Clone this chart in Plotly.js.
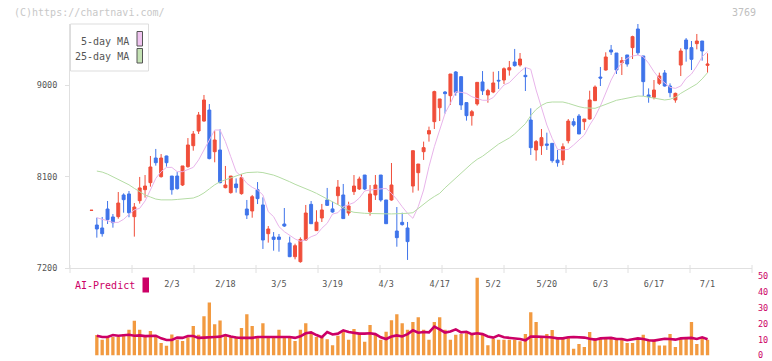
<!DOCTYPE html>
<html><head><meta charset="utf-8">
<script src="https://cdn.plot.ly/plotly-3.0.1.min.js"></script>
<style>html,body{margin:0;padding:0;background:#fff;}#chart{width:772px;height:361px;}</style>
</head><body><div id="chart"></div>
<script>
// ---- data ----
const openP  = [7768,7625,7596,7782,7704,7707,7920,7930,7707,7864,7972,8041,8283,8100,8303,8106,8106,8018,8198,8404,8548,8646,8754,8345,8362,7992,7943,8028,7933,7782,7763,7972,7822,7540,7507,7507,7635,7449,7314,7265,7478,7828,7570,7694,7871,7783,7913,7920,7743,7953,7979,8116,7756,7920,8116,7871,7871,7566,7651,7596,8008,8139,8345,8519,8640,8777,8931,8895,9128,9082,8827,8699,8814,9030,8902,8931,9046,9049,9147,9226,9196,9095,8656,8362,8404,8421,8427,8263,8263,8453,8640,8695,8640,8666,8846,9078,9147,9344,9314,9219,9295,9367,9550,9285,8902,8879,9016,9118,8990,8853,9196,9442,9367,9406,9432,9193];
const highP  = [7770,7697,7704,7861,7733,7949,7936,7959,7841,8097,8116,8303,8372,8322,8306,8106,8146,8205,8479,8548,8735,8902,8813,8548,8565,8205,8106,8083,8123,7871,7920,8047,7897,7615,7556,7537,7792,7511,7442,7504,7822,7861,7770,7832,7989,7854,8067,8028,7854,8116,8100,8116,8018,8116,8116,7871,8234,7802,7746,7655,8355,8224,8444,8591,8944,8863,8941,9108,9137,9082,8827,8755,9026,9137,8962,9130,9137,9173,9236,9354,9314,9173,8771,8460,8568,8532,8427,8362,8427,8666,8673,8715,8666,8944,8996,9177,9321,9393,9314,9275,9295,9484,9599,9285,8967,9049,9121,9147,9016,8925,9360,9461,9432,9501,9432,9311];
const lowP   = [7768,7501,7511,7635,7599,7687,7746,7701,7511,7835,7894,8002,8208,8090,8198,7923,7972,8008,8188,8355,8519,8640,8270,8241,8035,7985,7933,7943,7923,7684,7697,7831,7390,7452,7373,7363,7606,7310,7288,7255,7470,7638,7570,7655,7812,7746,7822,7688,7717,7920,7969,7969,7717,7871,7854,7638,7864,7412,7619,7282,7943,7963,8264,8444,8568,8646,8719,8804,8895,8755,8650,8601,8797,8902,8826,8920,8961,9010,9092,9180,9180,8941,8313,8257,8313,8362,8237,8198,8214,8427,8591,8519,8558,8660,8846,8990,9141,9295,9108,9098,9180,9255,9295,8892,8826,8859,9000,8984,8879,8826,9088,9229,9147,9350,9239,9121];
const closeP = [7770,7586,7540,7678,7648,7841,7874,7746,7802,7989,8008,8195,8237,8283,8237,7972,7982,8205,8411,8519,8705,8853,8277,8460,8041,8018,8106,7992,8090,7723,7903,7884,7478,7586,7484,7484,7615,7314,7422,7484,7743,7638,7653,7773,7818,7753,7998,7688,7812,8008,8077,7979,7930,8018,7871,7638,8018,7501,7629,7462,8355,8224,8385,8552,8935,8863,8915,9108,8928,8804,8699,8738,9026,8943,8945,9020,9040,9160,9170,9190,9255,9082,8385,8444,8483,8408,8257,8237,8394,8646,8607,8519,8666,8853,8980,9068,9275,9324,9147,9239,9206,9475,9317,9033,8885,8951,9088,8990,8925,8918,9334,9354,9252,9432,9334,9206];
// moving averages, from day 1 on
const ma5  = [7697,7681,7668,7651,7651,7681,7730,7773,7789,7861,7969,8083,8149,8191,8191,8149,8149,8172,8191,8264,8362,8460,8558,8558,8444,8296,8149,8100,8034,7995,7969,7920,7756,7707,7609,7560,7527,7488,7465,7478,7510,7530,7593,7642,7733,7746,7805,7822,7845,7890,7960,7969,7976,7985,7985,7936,7877,7805,7740,7691,7805,7969,8198,8394,8558,8722,8820,8934,8928,8918,8885,8869,8850,8850,8877,8940,9000,9023,9082,9131,9173,9154,8951,8787,8607,8476,8368,8362,8368,8411,8460,8509,8607,8689,8794,8925,9049,9147,9219,9262,9285,9294,9278,9213,9131,9065,9016,8977,8967,8990,9065,9108,9186,9278,9327];
const ma25 = [8155,8145,8125,8100,8075,8050,8020,7985,7950,7920,7900,7880,7872,7870,7872,7876,7880,7882,7890,7910,7940,7980,8020,8050,8070,8085,8105,8125,8140,8145,8145,8140,8130,8115,8095,8075,8050,8025,8005,7985,7960,7936,7910,7885,7855,7825,7795,7765,7750,7742,7740,7738,7735,7735,7735,7734,7734,7735,7740,7746,7790,7830,7870,7905,7936,7990,8040,8090,8140,8190,8230,8270,8300,8340,8380,8420,8450,8480,8520,8570,8620,8700,8760,8800,8826,8833,8836,8833,8820,8800,8787,8776,8772,8771,8790,8810,8836,8850,8860,8869,8880,8892,8890,8879,8870,8862,8853,8860,8879,8918,8950,8980,9010,9060,9121];
// lower panel, from day 1 on
const aiBars = [12.9,10.0,11.7,11.7,11.7,13.6,16.3,21.9,16.3,11.7,15.4,11.7,7.9,6.1,13.3,10.0,9.2,11.5,18.6,13.1,24.8,33.6,19.8,22.1,13.3,11.7,12.0,17.3,26.1,18.6,11.7,20.4,11.7,11.7,16.3,11.7,11.7,9.2,16.3,20.4,14.2,11.7,12.5,10.2,6.5,12.5,15.7,10.0,16.7,14.2,8.6,19.2,13.1,10.0,15.0,22.3,26.1,20.4,16.3,21.1,24.2,16.3,10.0,21.1,24.2,16.3,10.0,13.1,13.6,14.2,13.1,49.2,13.1,6.5,10.6,10.0,10.0,10.0,10.0,9.0,13.6,27.3,21.1,11.1,13.6,16.1,11.1,11.1,11.1,4.2,7.3,5.4,14.8,11.1,11.1,11.1,11.1,10.0,10.0,7.9,7.9,11.1,13.1,10.0,10.0,6.3,6.3,13.6,5.4,11.1,11.1,21.1,7.3,11.1,10.0];
const aiLine = [12.5,11.7,11.7,12.9,12.5,12.9,13.1,12.5,12.7,12.2,12.5,12.5,10.8,9.8,9.8,11.3,11.1,12.3,12.3,11.1,11.3,11.7,11.7,11.9,12.9,12.0,11.3,11.1,11.1,11.1,11.7,11.7,11.7,11.7,11.9,11.9,11.7,11.1,12.1,14.0,14.6,12.9,11.5,14.8,13.3,13.8,15.9,14.8,14.2,13.8,13.8,14.0,13.5,11.5,10.4,12.0,12.7,12.0,13.5,15.9,14.4,14.8,14.6,18.3,16.5,14.5,15.2,16.5,14.6,15.0,13.5,14.0,13.5,12.0,11.3,12.7,11.5,11.1,11.1,10.4,9.6,11.9,11.9,11.9,11.7,11.3,10.8,10.8,11.5,11.7,11.5,11.3,10.6,10.0,10.8,11.1,11.1,10.4,10.4,9.6,10.0,10.8,10.4,9.6,9.4,10.0,10.6,10.4,10.0,10.8,11.1,11.1,10.4,11.5,10.2];
const tickDays   = [15,25,35,45,55,65,75,85,95,105,115];
const tickLabels = ['2/3','2/18','3/5','3/19','4/3','4/17','5/2','5/20','6/3','6/17','7/1'];
const priceTicks = [7200,8100,9000];
const aiTicks    = [0,10,20,30,40,50];

// ---- build ----
const days = openP.map((_, i) => i);
const laterDays = days.slice(1);
const UP = '#f04e3a', DOWN = '#3f74ea';
const MONO = '"DejaVu Sans Mono", "Liberation Mono", monospace';

const traces = [
  {type:'candlestick', x:days, open:openP, high:highP, low:lowP, close:closeP,
   xaxis:'x', yaxis:'y', hoverinfo:'skip', whiskerwidth:0,
   increasing:{line:{color:UP,width:1}, fillcolor:UP},
   decreasing:{line:{color:DOWN,width:1}, fillcolor:DOWN}},
  {type:'scatter', mode:'lines', x:laterDays, y:ma5, xaxis:'x', yaxis:'y',
   line:{color:'#e8b4ea', width:1}, hoverinfo:'skip'},
  {type:'scatter', mode:'lines', x:laterDays, y:ma25, xaxis:'x', yaxis:'y',
   line:{color:'#b4dca4', width:1}, hoverinfo:'skip'},
  {type:'bar', x:laterDays, y:aiBars, xaxis:'x', yaxis:'y2',
   marker:{color:'#f29a40', line:{width:0}}, hoverinfo:'skip'},
  {type:'scatter', mode:'lines', x:laterDays, y:aiLine, xaxis:'x', yaxis:'y2',
   line:{color:'#cc0066', width:2.6}, hoverinfo:'skip'}
];

const H = 334, TOP = 24; // plot area pixel height and top
const py = y => (TOP + H - y) / H; // pixel y -> paper y
const px = x => (x - 70) / 682;    // pixel x -> paper x

const shapes = [];
for (let k = 0; k <= 11; k++) {
  shapes.push({type:'line', xref:'paper', yref:'paper', x0:k/11, x1:k/11, y0:py(273), y1:py(265),
               line:{color:'#e0e0e0', width:1}});
}
shapes.push({type:'rect', xref:'paper', yref:'paper', x0:px(70.5), x1:px(148.5), y0:py(71), y1:py(24),
             line:{color:'#dddddd', width:1}, fillcolor:'#ffffff', layer:'above'});
shapes.push({type:'rect', xref:'paper', yref:'paper', x0:px(137), x1:px(142.5), y0:py(46), y1:py(31.5),
             line:{color:'#555555', width:1}, fillcolor:'#f0c4f0', layer:'above'});
shapes.push({type:'rect', xref:'paper', yref:'paper', x0:px(137), x1:px(142.5), y0:py(63), y1:py(48.5),
             line:{color:'#555555', width:1}, fillcolor:'#c4e2b4', layer:'above'});
shapes.push({type:'rect', xref:'paper', yref:'paper', x0:px(142.5), x1:px(149), y0:py(292.5), y1:py(277.5),
             line:{width:0}, fillcolor:'#cc0066'});

const annotations = [
  {text:'(C)https://chartnavi.com/', xref:'paper', yref:'paper', x:px(12), y:py(13), xanchor:'left', yanchor:'middle',
   showarrow:false, font:{family:MONO, size:10, color:'#c8c8c8'}},
  {text:'3769', xref:'paper', yref:'paper', x:px(758), y:py(13), xanchor:'right', yanchor:'middle',
   showarrow:false, font:{family:MONO, size:10, color:'#c0c0c0'}},
  {text:'5-day MA', xref:'paper', yref:'paper', x:px(131), y:py(41.5), xanchor:'right', yanchor:'middle',
   showarrow:false, font:{family:MONO, size:10, color:'#555'}},
  {text:'25-day MA', xref:'paper', yref:'paper', x:px(131), y:py(56.5), xanchor:'right', yanchor:'middle',
   showarrow:false, font:{family:MONO, size:10, color:'#555'}},
  {text:'AI-Predict', xref:'paper', yref:'paper', x:px(73), y:py(285), xanchor:'left', yanchor:'middle',
   showarrow:false, font:{family:MONO, size:10, color:'#cc0066'}}
];

const layout = {
  width:772, height:361,
  margin:{l:70, r:20, t:TOP, b:361 - TOP - H},
  paper_bgcolor:'#ffffff', plot_bgcolor:'#ffffff',
  showlegend:false, dragmode:false,
  boxgap:0.22, bargap:0.38,
  font:{family:MONO, size:9, color:'#555'},
  xaxis:{range:[-4.01, 123.3], anchor:'y', showgrid:false, zeroline:false,
         showline:true, linecolor:'#e0e0e0', linewidth:1,
         tickmode:'array', tickvals:tickDays, ticktext:tickLabels, ticks:'',
         ticklabelstandoff:7, tickfont:{family:MONO, size:8.5, color:'#555'},
         rangeslider:{visible:false}, fixedrange:true},
  yaxis:{domain:[py(268.3), 1], range:[7200, 9599], showgrid:false, zeroline:false,
         showline:true, linecolor:'#e0e0e0', linewidth:1,
         tickmode:'array', tickvals:priceTicks, ticks:'outside', ticklen:4, tickcolor:'#e0e0e0',
         ticklabelstandoff:6, tickfont:{family:MONO, size:8.5, color:'#555'}, fixedrange:true},
  yaxis2:{domain:[py(355.5), py(276.5)], range:[-0.05, 50], anchor:'x', side:'right',
          showgrid:false, zeroline:false, showline:false, tickmode:'array', tickvals:aiTicks, ticks:'',
          ticklabeloverflow:'allow', ticklabelstandoff:5,
          tickfont:{family:MONO, size:8.5, color:'#cc0066'}, fixedrange:true},
  shapes:shapes, annotations:annotations
};

Plotly.newPlot('chart', traces, layout, {staticPlot:true, displayModeBar:false});
</script>
</body></html>
